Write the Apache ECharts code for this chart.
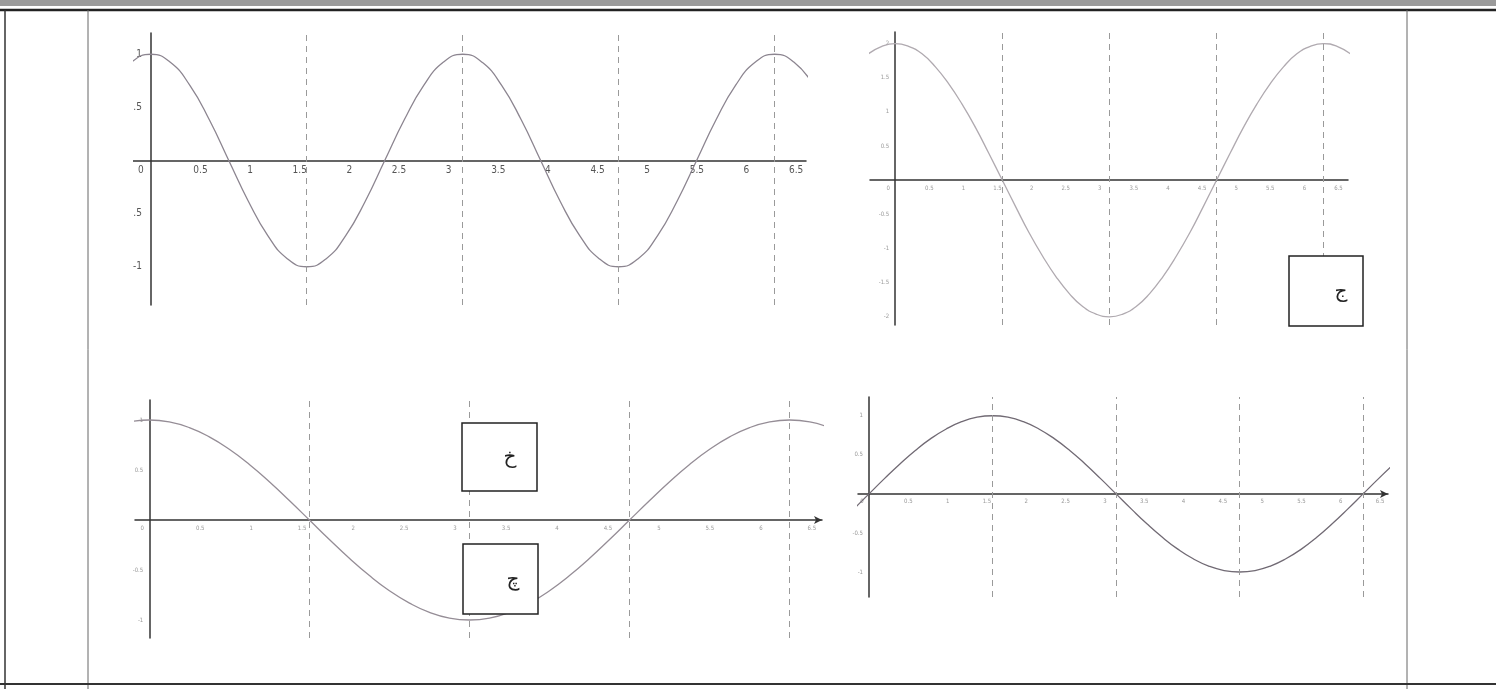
<!DOCTYPE html>
<html><head><meta charset="utf-8">
<script src="https://cdn.jsdelivr.net/npm/echarts@6/dist/echarts.min.js"></script>
<style>html,body{margin:0;padding:0;background:#fff}#c{width:1496px;height:689px}</style>
</head><body><div id="c"></div>
<script>
// x samples (radians)
const xs = [-0.393,-0.196,0,0.196,0.393,0.589,0.785,0.982,1.178,1.374,1.571,1.767,1.963,2.160,2.356,2.553,2.749,2.945,3.142,3.338,3.534,3.731,3.927,4.123,4.320,4.516,4.712,4.909,5.105,5.301,5.498,5.694,5.890,6.087,6.283,6.480,6.676];
// top-left curve
const curveA = [0.707,0.924,1,0.924,0.707,0.383,0,-0.383,-0.707,-0.924,-1,-0.924,-0.707,-0.383,0,0.383,0.707,0.924,1,0.924,0.707,0.383,0,-0.383,-0.707,-0.924,-1,-0.924,-0.707,-0.383,0,0.383,0.707,0.924,1,0.924,0.707];
// top-right curve
const curveB = [1.85,1.96,2,1.96,1.85,1.66,1.41,1.11,0.77,0.39,0,-0.39,-0.77,-1.11,-1.41,-1.66,-1.85,-1.96,-2,-1.96,-1.85,-1.66,-1.41,-1.11,-0.77,-0.39,0,0.39,0.77,1.11,1.41,1.66,1.85,1.96,2,1.96,1.85];
// bottom-left curve
const curveC = [0.924,0.981,1,0.981,0.924,0.831,0.707,0.556,0.383,0.195,0,-0.195,-0.383,-0.556,-0.707,-0.831,-0.924,-0.981,-1,-0.981,-0.924,-0.831,-0.707,-0.556,-0.383,-0.195,0,0.195,0.383,0.556,0.707,0.831,0.924,0.981,1,0.981,0.924];
// bottom-right curve
const curveD = [-0.383,-0.195,0,0.195,0.383,0.556,0.707,0.831,0.924,0.981,1,0.981,0.924,0.831,0.707,0.556,0.383,0.195,0,-0.195,-0.383,-0.556,-0.707,-0.831,-0.924,-0.981,-1,-0.981,-0.924,-0.831,-0.707,-0.556,-0.383,-0.195,0,0.195,0.383];
// tick labels
const xTicks = [0,0.5,1,1.5,2,2.5,3,3.5,4,4.5,5,5.5,6,6.5];
const yTicks1 = [-1,-0.5,0.5,1];
const yTicks2 = [-2,-1.5,-1,-0.5,0.5,1,1.5,2];
// dashed reference verticals (pi/2, pi, 3pi/2, 2pi)
const dashedX = [1.5708,3.1416,4.7124,6.2832];
// panel labels
const panelLabels = ['ج','خ','چ'];

const grids = [
  {left:133, top:33, width:673, height:272, xmin:-0.18, xmax:6.6, ymin:-1.36, ymax:1.2, yt:yTicks1, big:true, color:'#8c8590', data:curveA, arrow:false},
  {left:870, top:32, width:478, height:293, xmin:-0.37, xmax:6.64, ymin:-2.12, ymax:2.17, yt:yTicks2, big:false, color:'#b0aab0', data:curveB, arrow:false},
  {left:135, top:400, width:687, height:238, xmin:-0.14, xmax:6.6, ymin:-1.18, ymax:1.2, yt:yTicks1, big:false, color:'#958d96', data:curveC, arrow:true},
  {left:858, top:397, width:530, height:200, xmin:-0.14, xmax:6.6, ymin:-1.32, ymax:1.24, yt:yTicks1, big:false, color:'#716a74', data:curveD, arrow:true}
];

const option = {
  animation:false,
  backgroundColor:'#fff',
  grid: grids.map(g=>({left:g.left, top:g.top, width:g.width, height:g.height, containLabel:false})),
  xAxis: grids.map((g,i)=>({
    type:'value', gridIndex:i, min:g.xmin, max:g.xmax, position:'bottom',
    offset: -g.height*(-g.ymin)/(g.ymax-g.ymin),
    axisLine:{show:true, onZero:false, lineStyle:{color:'#333', width:1.5}, symbol: g.arrow?['none','arrow']:['none','none'], symbolSize:[6,8]},
    axisTick:{show:false},
    splitLine:{show:false},
    axisLabel:{
      customValues:xTicks,
      fontSize:g.big?10:6,
      color:g.big?'#555':'#999',
      fontFamily:'DejaVu Sans Condensed, DejaVu Sans',
      margin:g.big?5:5,
      formatter:v=> v===0 ? '{z|0}' : String(v),
      rich:{z:{fontSize:g.big?10:6, color:g.big?'#555':'#999', padding:[0,g.big?20:14,0,0]}}
    }
  })),
  yAxis: grids.map((g,i)=>({
    type:'value', gridIndex:i, min:g.ymin, max:g.ymax, position:'left',
    offset: -g.width*(-g.xmin)/(g.xmax-g.xmin),
    axisLine:{show:true, onZero:false, lineStyle:{color:'#333', width:1.5}},
    axisTick:{show:false},
    splitLine:{show:false},
    axisLabel:{
      customValues:g.yt,
      fontSize:g.big?10:6,
      color:g.big?'#555':'#999',
      fontFamily:'DejaVu Sans Condensed, DejaVu Sans',
      margin:g.big?9:6
    }
  })),
  series: grids.map((g,i)=>({
    type:'line', xAxisIndex:i, yAxisIndex:i,
    data: xs.map((x,k)=>[x, g.data[k]]),
    smooth:0.5, showSymbol:false, symbol:'none',
    lineStyle:{color:g.color, width:1.3},
    z:3,
    markLine:{
      silent:true, symbol:['none','none'], animation:false,
      label:{show:false},
      lineStyle:{color:'#9a9a9a', type:[6,5], width:1},
      data: dashedX.map(v=>({xAxis:v}))
    }
  })),
  graphic: [
    // crop of the first panel's left edge
    {type:'rect', shape:{x:92, y:20, width:41, height:295}, style:{fill:'#fff'}, z:50},
    // page frame
    {type:'rect', shape:{x:0, y:0, width:1496, height:6}, style:{fill:'#9a9a9a'}, z:60},
    {type:'line', shape:{x1:0, y1:10, x2:1496, y2:10}, style:{stroke:'#222', lineWidth:2.5}, z:60},
    {type:'line', shape:{x1:5, y1:10, x2:5, y2:689}, style:{stroke:'#333', lineWidth:1.5}, z:60},
    {type:'line', shape:{x1:88, y1:10, x2:88, y2:689}, style:{stroke:'#666', lineWidth:1}, z:60},
    {type:'line', shape:{x1:1407, y1:10, x2:1407, y2:689}, style:{stroke:'#666', lineWidth:1}, z:60},
    {type:'line', shape:{x1:0, y1:684, x2:1496, y2:684}, style:{stroke:'#333', lineWidth:2}, z:60},
    // panel label boxes
    {type:'rect', shape:{x:1289, y:256, width:74, height:70}, style:{fill:'#fff', stroke:'#222', lineWidth:1.5}, z:100},
    {type:'text', x:1341, y:292, style:{text:panelLabels[0], font:'20px "DejaVu Sans"', fill:'#222', align:'center', verticalAlign:'middle'}, z:101},
    {type:'rect', shape:{x:462, y:423, width:75, height:68}, style:{fill:'#fff', stroke:'#222', lineWidth:1.5}, z:100},
    {type:'text', x:510, y:458, style:{text:panelLabels[1], font:'20px "DejaVu Sans"', fill:'#222', align:'center', verticalAlign:'middle'}, z:101},
    {type:'rect', shape:{x:463, y:544, width:75, height:70}, style:{fill:'#fff', stroke:'#222', lineWidth:1.5}, z:100},
    {type:'text', x:513, y:580, style:{text:panelLabels[2], font:'20px "DejaVu Sans"', fill:'#222', align:'center', verticalAlign:'middle'}, z:101}
  ]
};
const chart = echarts.init(document.getElementById('c'), null, {renderer:'canvas'});
chart.setOption(option);
</script></body></html>
